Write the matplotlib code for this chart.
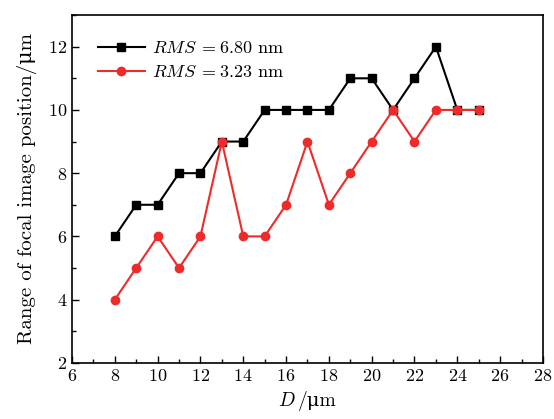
import matplotlib
matplotlib.use("Agg")
import matplotlib.pyplot as plt
from matplotlib.ticker import MultipleLocator
from matplotlib.offsetbox import TextArea, HPacker, AnchoredOffsetbox

plt.rcParams['font.family'] = ['cmr10', 'DejaVu Serif']
plt.rcParams['mathtext.fontset'] = 'cm'
plt.rcParams['axes.formatter.use_mathtext'] = True
plt.rcParams['font.size'] = 13

# data
diameter = [8, 9, 10, 11, 12, 13, 14, 15, 16, 17, 18, 19, 20, 21, 22, 23, 24, 25]
range_rms_680 = [6, 7, 7, 8, 8, 9, 9, 10, 10, 10, 10, 11, 11, 10, 11, 12, 10, 10]
range_rms_323 = [4, 5, 6, 5, 6, 9, 6, 6, 7, 9, 7, 8, 9, 10, 9, 10, 10, 10]

fig = plt.figure(figsize=(5.54, 4.19), dpi=100)
ax = fig.add_axes([0.13, 0.134, 0.85, 0.83])

ax.plot(diameter, range_rms_680, color='black', marker='s', markersize=5.5,
        linewidth=1.5, label=r'$RMS\;=6.80$ nm')
ax.plot(diameter, range_rms_323, color='#ee2a2a', marker='o', markersize=6,
        linewidth=1.5, label=r'$RMS\;=3.23$ nm')

ax.set_xlim(6, 28)
ax.set_ylim(2, 13)
ax.xaxis.set_major_locator(MultipleLocator(2))
ax.xaxis.set_minor_locator(MultipleLocator(1))
ax.yaxis.set_major_locator(MultipleLocator(2))
ax.yaxis.set_minor_locator(MultipleLocator(1))
ax.tick_params(which='both', direction='in', top=False, right=False)
ax.tick_params(which='major', length=5, width=1)
ax.tick_params(which='minor', length=3, width=1)
for s in ax.spines.values():
    s.set_linewidth(1.2)

# x label: italic D (mathtext) + upright /μm (plain text, so μ has a glyph)
xlab = HPacker(children=[TextArea('$D$', textprops=dict(fontsize=14)),
                         TextArea('/μm', textprops=dict(fontsize=14))],
               align='baseline', pad=0, sep=2)
box = AnchoredOffsetbox(loc='upper center', child=xlab, frameon=False, pad=0,
                        borderpad=0, bbox_to_anchor=(0.5, -0.08),
                        bbox_transform=ax.transAxes)
ax.add_artist(box)
ax.set_ylabel('Range of focal image position/μm', fontsize=15, labelpad=8)

ax.legend(loc='upper left', frameon=False, handlelength=2.6, borderaxespad=0.5,
          bbox_to_anchor=(0.02, 0.975), labelspacing=0.45, handletextpad=0.4)

fig.savefig('out.png', dpi=100)
